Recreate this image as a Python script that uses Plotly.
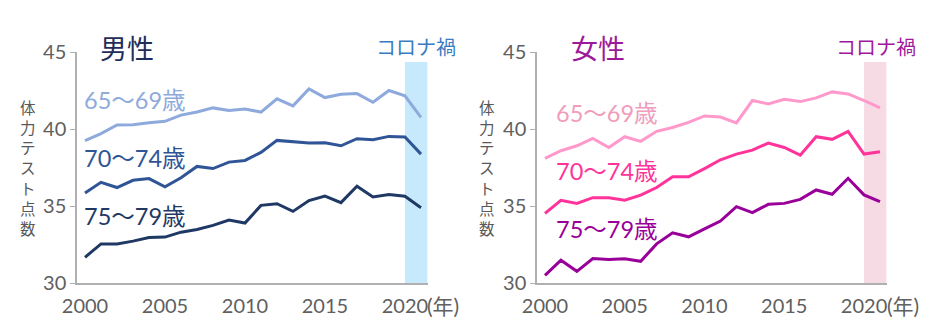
import plotly.graph_objects as go

years = list(range(2000, 2022))

male_65_69 = [39.24, 39.7, 40.26, 40.28, 40.4, 40.5, 40.9, 41.1, 41.37, 41.2, 41.3,
              41.1, 41.96, 41.5, 42.6, 42.04, 42.26, 42.3, 41.74, 42.5, 42.15, 40.76]
male_70_74 = [35.85, 36.54, 36.2, 36.67, 36.78, 36.24, 36.83, 37.57, 37.43, 37.85, 37.96,
              38.48, 39.26, 39.17, 39.09, 39.11, 38.91, 39.37, 39.3, 39.52, 39.48, 38.37]
male_75_79 = [31.67, 32.54, 32.54, 32.72, 32.96, 32.98, 33.3, 33.48, 33.74, 34.09, 33.89,
              35.04, 35.15, 34.65, 35.35, 35.65, 35.22, 36.28, 35.59, 35.74, 35.63, 34.89]

female_65_69 = [38.09, 38.59, 38.91, 39.39, 38.8, 39.5, 39.2, 39.85, 40.1, 40.43, 40.85,
                40.78, 40.39, 41.85, 41.63, 41.93, 41.78, 42.02, 42.41, 42.28, 41.85, 41.37]
female_70_74 = [34.52, 35.37, 35.17, 35.54, 35.54, 35.37, 35.7, 36.2, 36.9, 36.9, 37.43,
                38.0, 38.37, 38.63, 39.09, 38.8, 38.3, 39.5, 39.33, 39.85, 38.37, 38.52]
female_75_79 = [30.5, 31.48, 30.76, 31.59, 31.52, 31.57, 31.41, 32.54, 33.26, 33.0, 33.52,
                34.02, 34.96, 34.57, 35.11, 35.17, 35.43, 36.04, 35.76, 36.8, 35.72, 35.28]

series_labels = ["65～69歳", "70～74歳", "75～79歳"]
panel_titles = ["男性", "女性"]
covid_label = "コロナ禍"
y_title = "体力テスト点数"
x_unit = "(年)"
x_ticks = [2000, 2005, 2010, 2015, 2020]
y_ticks = [30, 35, 40, 45]
covid_start, covid_end, covid_top = 2020, 2021.4, 44.35

W, H = 940, 328
FONT = "Lato, Noto Sans CJK JP, sans-serif"
CJK = "Noto Sans CJK JP, sans-serif"

male_colors = ["#8eaadc", "#2f5597", "#1f3864"]
female_colors = ["#ff99cc", "#ff3399", "#990099"]
female_label_colors = ["#f09cbc", "#ff3399", "#990099"]

fig = go.Figure()

panels = [
    dict(data=[male_65_69, male_70_74, male_75_79], colors=male_colors,
         lcolors=male_colors, xa="x", ya="y",
         shade="#c6eafb", title_color="#1f2d5a", covid_color="#3a7cc2"),
    dict(data=[female_65_69, female_70_74, female_75_79], colors=female_colors,
         lcolors=female_label_colors, xa="x2", ya="y2",
         shade="#f6dbe5", title_color="#9b1a9b", covid_color="#a0189e"),
]

for p in panels:
    for vals, col, name in zip(p["data"], p["colors"], series_labels):
        fig.add_trace(go.Scatter(x=years, y=vals, mode="lines", name=name,
                                 line=dict(color=col, width=3),
                                 xaxis=p["xa"], yaxis=p["ya"], showlegend=False))
    fig.add_shape(type="rect", xref=p["xa"], yref=p["ya"], x0=covid_start, x1=covid_end,
                  y0=30, y1=covid_top, fillcolor=p["shade"], line_width=0, layer="below")

y_top, y_bot = 52, 283
ydom = [1 - y_bot / H, 1 - y_top / H]
axis_common = dict(showgrid=False, zeroline=False, showline=True, linecolor="#b0b0b0",
                   linewidth=1.5, automargin=False,
                   tickfont=dict(family=FONT, size=20, color="#606060"))

fig.update_layout(
    width=W, height=H, margin=dict(l=0, r=0, t=0, b=0, pad=0, autoexpand=False),
    paper_bgcolor="white", plot_bgcolor="white",
    xaxis=dict(domain=[77 / W, 428 / W], range=[1999.5, 2021.44], tickvals=x_ticks,
               ticks="", ticklabelstandoff=4, anchor="y", **axis_common),
    yaxis=dict(domain=ydom, range=[30, 45], tickvals=y_ticks, ticks="outside",
               ticklen=5, tickcolor="#b0b0b0", anchor="x", **axis_common),
    xaxis2=dict(domain=[537 / W, 887 / W], range=[1999.5, 2021.44], tickvals=x_ticks,
                ticks="", ticklabelstandoff=4, anchor="y2", **axis_common),
    yaxis2=dict(domain=ydom, range=[30, 45], tickvals=y_ticks, ticks="outside",
                ticklen=5, tickcolor="#b0b0b0", anchor="x2", **axis_common),
)

def ann(text, x, y, size, color, xanchor="center", family=FONT):
    fig.add_annotation(text=text, x=x / W, y=1 - y / H, xref="paper", yref="paper",
                       showarrow=False, xanchor=xanchor, yanchor="middle",
                       font=dict(family=family, size=size, color=color))

# panel titles and covid labels
ann(panel_titles[0], 127, 47, 27, panels[0]["title_color"], family=CJK)
ann(panel_titles[1], 598, 47, 27, panels[1]["title_color"], family=CJK)
ann(covid_label, 416, 46, 20, panels[0]["covid_color"], family=CJK)
ann(covid_label, 876, 46, 20, panels[1]["covid_color"], family=CJK)

# year unit
ann(x_unit, 425, 305, 21, "#606060", xanchor="left")
ann(x_unit, 885, 305, 21, "#606060", xanchor="left")

# vertical y titles (one char per line)
for cx in (27.5, 487.5):
    ann("<br>".join(y_title), cx, 167, 15.5, "#595959", family=CJK)

# series labels
male_lab_y = [100, 158, 216]
female_lab_y = [113, 171, 229]
for lab, col, yy in zip(series_labels, panels[0]["lcolors"], male_lab_y):
    ann(lab, 82, yy, 23.5, col, xanchor="left")
for lab, col, yy in zip(series_labels, panels[1]["lcolors"], female_lab_y):
    ann(lab, 554, yy, 23.5, col, xanchor="left")

fig.write_html("out.html")
